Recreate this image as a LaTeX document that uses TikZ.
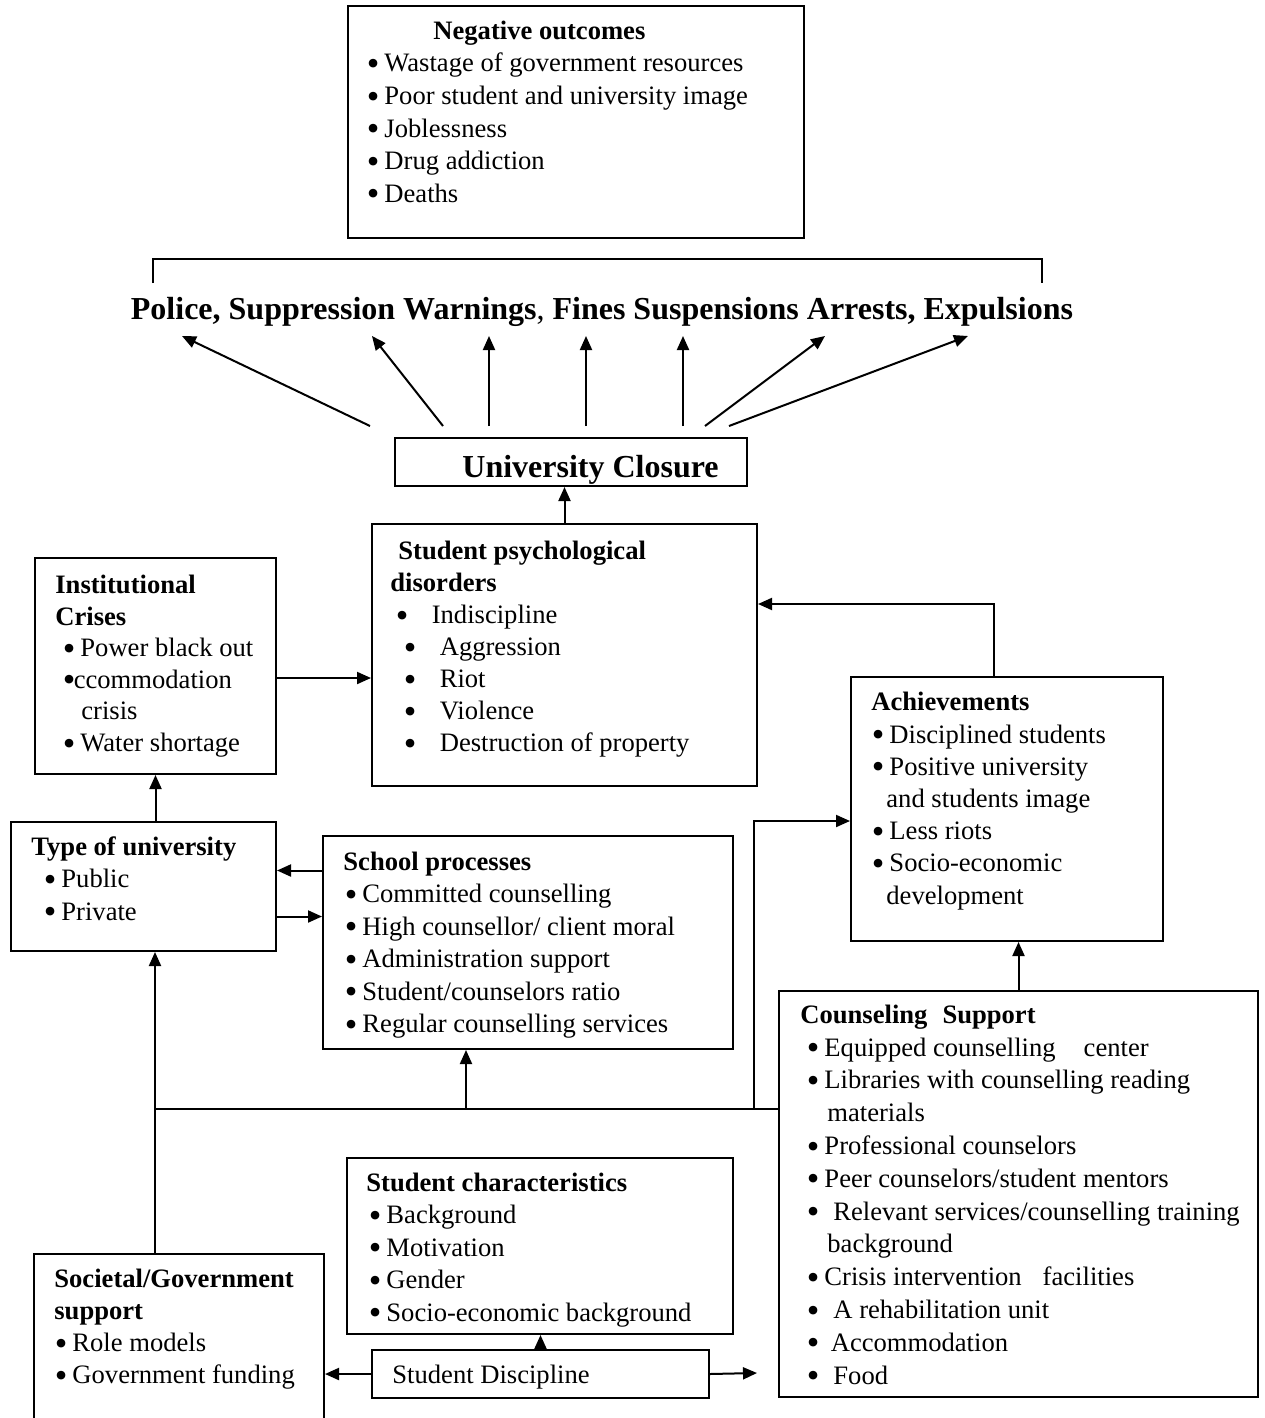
\documentclass[tikz,border=0pt]{standalone}
\usepackage{fontspec}
\setmainfont{Liberation Serif}
\usepackage{graphicx}
\usepackage{tikz}
\usetikzlibrary{arrows.meta}

\newcommand{\bul}{\makebox[4.7pt][c]{\raisebox{-1.8pt}{\scalebox{1.35}{\textbullet}}}}

\tikzset{
  box/.style={draw, line width=1pt, inner sep=0pt, anchor=north west},
  txt/.style={anchor=north west, inner sep=0pt, align=left, font=\fontsize{13.3}{16.25}\selectfont},
  head/.style={inner sep=0pt, font=\fontsize{16}{19}\selectfont\bfseries},
  arr/.style={line width=1pt, -{Triangle[length=7pt,width=6pt]}},
  bus/.style={line width=1pt}
}

\begin{document}
\begin{tikzpicture}[x=0.5pt, y=-0.5pt]
        \useasboundingbox (0,0) rectangle (1264,1418);
        % boxes
        \node[box, minimum width=228pt, minimum height=116pt] (neg) at (347,5) {};
        \node[box, minimum width=176pt, minimum height=24pt] (closure) at (394,437) {};
        \node[box, minimum width=192.5pt, minimum height=131pt] (psych) at (371,523) {};
        \node[box, minimum width=120.5pt, minimum height=108pt] (inst) at (34,557) {};
        \node[box, minimum width=156pt, minimum height=132pt] (achieve) at (850,676) {};
        \node[box, minimum width=132.5pt, minimum height=64.5pt] (type) at (10,821) {};
        \node[box, minimum width=205pt, minimum height=106.5pt] (school) at (322,835) {};
        \node[box, minimum width=239.5pt, minimum height=203pt] (counsel) at (778,990) {};
        \node[box, minimum width=193pt, minimum height=88pt] (chars) at (346,1157) {};
        \node[box, minimum width=168.5pt, minimum height=24pt] (disc) at (371,1349) {};
        \node[box, minimum width=145pt, minimum height=93.5pt] (societal) at (33,1253) {};

        % texts
        \node[txt, font=\fontsize{13.3}{16.3}\selectfont] (negtxt) at (368,16) {\strut\hspace*{32.5pt}\textbf{Negative outcomes}\\
            \bul\ Wastage of government resources\\
            \bul\ Poor student and university image\\
            \bul\ Joblessness\\
            \bul\ Drug addiction\\
            \bul\ Deaths};
        \node[head, anchor=base] (measures) at (602,319)
            {Police, Suppression Warnings{\mdseries ,} Fines Suspensions Arrests, Expulsions};
        \node[head, anchor=base west] (closuretxt) at (462,477) {University Closure};
        \node[txt, font=\fontsize{13.3}{16}\selectfont] (psychtxt) at (390,537) {\strut\hspace*{4pt}\textbf{Student psychological}\\
            \textbf{disorders}\\
            \hspace*{3.5pt}\bul\hspace{12.5pt}Indiscipline\\
            \hspace*{7.5pt}\bul\hspace{12.5pt}Aggression\\
            \hspace*{7.5pt}\bul\hspace{12.5pt}Riot\\
            \hspace*{7.5pt}\bul\hspace{12.5pt}Violence\\
            \hspace*{7.5pt}\bul\hspace{12.5pt}Destruction of property};
        \node[txt, font=\fontsize{13.3}{15.8}\selectfont] (insttxt) at (55,571) {\strut\textbf{Institutional}\\
            \textbf{Crises}\\
            \hspace*{4.5pt}\bul\ Power black out\\
            \hspace*{4.5pt}\bul{}ccommodation\\
            \hspace*{13pt}crisis\\
            \hspace*{4.5pt}\bul\ Water shortage};
        \node[txt, font=\fontsize{13.3}{16.1}\selectfont] (achievetxt) at (871,688) {\strut\textbf{Achievements}\\
            \hspace*{1pt}\bul\ Disciplined students\\
            \hspace*{1pt}\bul\ Positive university\\
            \hspace*{7.5pt}and students image\\
            \hspace*{1pt}\bul\ Less riots\\
            \hspace*{1pt}\bul\ Socio-economic\\
            \hspace*{7.5pt}development};
        \node[txt] (typetxt) at (31,832) {\strut\textbf{Type of university}\\
            \hspace*{7pt}\bul\ Public\\
            \hspace*{7pt}\bul\ Private};
        \node[txt] (schooltxt) at (343,847) {\strut\textbf{School processes}\\
            \hspace*{1.5pt}\bul\ Committed counselling\\
            \hspace*{1.5pt}\bul\ High counsellor/ client moral\\
            \hspace*{1.5pt}\bul\ Administration support\\
            \hspace*{1.5pt}\bul\ Student/counselors ratio\\
            \hspace*{1.5pt}\bul\ Regular counselling services};
        \node[txt, font=\fontsize{13.3}{16.4}\selectfont] (counseltxt) at (800,1000) {\strut\textbf{Counseling\hspace{7.5pt}Support}\\
            \hspace*{4pt}\bul\ Equipped counselling\hspace{14pt}center\\
            \hspace*{4pt}\bul\ Libraries with counselling reading\\
            \hspace*{13.5pt}materials\\
            \hspace*{4pt}\bul\ Professional counselors\\
            \hspace*{4pt}\bul\ Peer counselors/student mentors\\
            \hspace*{4pt}\bul\hspace{7.8pt}Relevant services/counselling training\\
            \hspace*{13.5pt}background\\
            \hspace*{4pt}\bul\ Crisis intervention\hspace{10.5pt}facilities\\
            \hspace*{4pt}\bul\hspace{7.8pt}A rehabilitation unit\\
            \hspace*{4pt}\bul\hspace{6.5pt}Accommodation\\
            \hspace*{4pt}\bul\hspace{7.8pt}Food};
        \node[txt] (charstxt) at (366,1168) {\strut\textbf{Student characteristics}\\
            \hspace*{2pt}\bul\ Background\\
            \hspace*{2pt}\bul\ Motivation\\
            \hspace*{2pt}\bul\ Gender\\
            \hspace*{2pt}\bul\ Socio-economic background};
        \node[txt] (disctxt) at (392,1360) {\strut Student Discipline};
        \node[txt, font=\fontsize{13.3}{16}\selectfont] (societaltxt) at (54,1265) {\strut\textbf{Societal/Government}\\
            \textbf{support}\\
            \hspace*{1pt}\bul\ Role models\\
            \hspace*{1pt}\bul\ Government funding};

        % bracket over the measures
        \draw[bus] (153,283) |- (1042,259) -- (1042,283);

        % closure to measures
        \foreach \s/\t in {-24/-420, 49/-230, 95/-113, 192/-16, 289/81, 311/223, 335/366}
        \draw[arr] ([shift={(\s,-11)}]closure.north west) -- ([shift={(\t,17)}]measures.base);

        \draw[arr] (psych.north) -- (psych.north |- closure.south);
        \draw[arr] ([yshift=-6pt]inst.east) -- ([yshift=-6pt]inst.east -| psych.west);
        \draw[arr] ([xshift=-6.5pt]achieve.north) |- ([yshift=25.5pt]psych.east);
        \draw[arr] (inst.south |- type.north) -- (inst.south);
        \draw[arr] ([yshift=8pt]type.east -| school.west) -- ([yshift=8pt]type.east);
        \draw[arr] ([yshift=-15pt]type.east) -- ([yshift=-15pt]type.east -| school.west);
        \draw[arr] (counsel.north) -- (counsel.north |- achieve.south);

        % counselling support line
        \coordinate (hub) at (155,1109);
        \coordinate (tap) at (466,1109);
        \coordinate (turn) at (754,1109);
        \draw[bus] (hub) -- (hub -| counsel.west);
        \draw[arr] (hub |- societal.north) -- (hub |- type.south);
        \draw[arr] (tap) -- (tap |- school.south);
        \draw[arr] (turn) |- ([yshift=-6pt]achieve.west);

        % student discipline
        \coordinate (discend) at (757,1373);
        \draw[arr] (disc.north) -- (disc.north |- chars.south);
        \draw[arr] (disc.west) -- (disc.west -| societal.east);
        \draw[arr] (disc.east) -- (discend);
\end{tikzpicture}
\end{document}
